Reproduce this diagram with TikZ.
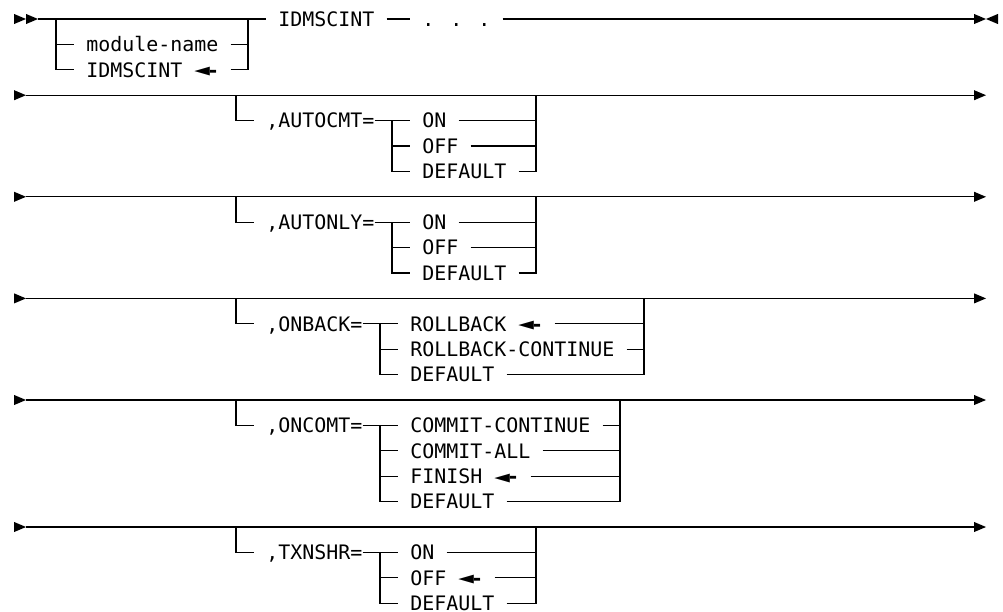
\documentclass[tikz,border=0pt]{standalone}
\usepackage{fontspec}
\newfontfamily\dvm{DejaVu Sans Mono}
\newcommand\rtri[2]{\fill (#1,#2-0.2) -- (#1+1,#2) -- (#1,#2+0.2) -- cycle;}
\newcommand\ltri[2]{\fill (#1,#2-0.2) -- (#1-1,#2) -- (#1,#2+0.2) -- cycle;}
\newcommand\darr{\makebox[9pt][l]{\raisebox{-0.5pt}{\scalebox{1.3}[1.15]{◄}}}\makebox[9pt][l]{\kern0.6pt\bfseries -}}
\newcommand\optrow[5]{%
  \rtri{0}{#1}
  \coordinate (m#1s) at (1,#1);
  \coordinate (m#1e) at (80,#1);
  \draw[rr] (m#1s) -- (m#1e);
  \rtri{80}{#1}
  \coordinate (m#1L) at (18.5,#1);
  \coordinate (m#1R) at (#4+0.5,#1);
  \node[lbl] (k#1) at (21,#1+1) {#2};
  \coordinate (m#1F) at (21+#3+1.5,#1+1);
  \foreach \itm [count=\i] in {#5} {
    \node[lbl] (i#1-\i) at (21+#3+4,#1+\i) {\itm};
    \draw[rr] ([xshift=9pt]i#1-\i.east) -| (m#1R);
    \draw[rr] (m#1F) |- ([xshift=-9pt]i#1-\i.west);
  }
  \draw[rr] (m#1L) |- ([xshift=-9pt]k#1.west);
  \draw[rr] (k#1.east) -- ([xshift=-9pt]i#1-1.west);
}
\begin{document}
\begin{tikzpicture}[x=9pt,y=-19.05pt,
  rr/.style={line width=0.8pt},
  lbl/.style={anchor=west,inner sep=0pt,text height=10.9pt,text depth=0pt,
    font=\dvm\fontsize{14.95pt}{18pt}\selectfont}]
\path[use as bounding box] (-1.16667,-0.74803) rectangle (82.41667,23.30709);
% row 0
\rtri{0}{0}\rtri{1}{0}
\coordinate (s0) at (2,0);
\coordinate (f0L) at (3.5,0);
\coordinate (f0R) at (19.5,0);
\node[lbl] (t0) at (22,0) {IDMSCINT};
\node[lbl] (d0) at (34,0) {. . .};
\coordinate (e0) at (80,0);
\draw[rr] (s0) -- ([xshift=-9pt]t0.west);
\draw[rr] ([xshift=9pt]t0.east) -- ([xshift=-9pt]d0.west);
\draw[rr] ([xshift=9pt]d0.east) -- (e0);
\rtri{80}{0}\ltri{82}{0}
\node[lbl] (m1) at (6,1) {module-name};
\node[lbl] (m2) at (6,2) {IDMSCINT \darr};
\draw[rr] (f0L) |- ([xshift=-9pt]m2.west);
\draw[rr] (f0L |- m1) -- ([xshift=-9pt]m1.west);
\draw[rr] ([xshift=9pt]m1.east) -- (f0R |- m1);
\draw[rr] ([xshift=9pt]m2.east) -| (f0R);
% option rows
\optrow{3}{,AUTOCMT=}{9}{43}{ON,OFF,DEFAULT}
\optrow{7}{,AUTONLY=}{9}{43}{ON,OFF,DEFAULT}
\optrow{11}{,ONBACK=}{8}{52}{ROLLBACK \darr,ROLLBACK-CONTINUE,DEFAULT}
\optrow{15}{,ONCOMT=}{8}{50}{COMMIT-CONTINUE,COMMIT-ALL,FINISH \darr,DEFAULT}
\optrow{20}{,TXNSHR=}{8}{43}{ON,OFF \darr,DEFAULT}
\end{tikzpicture}
\end{document}
